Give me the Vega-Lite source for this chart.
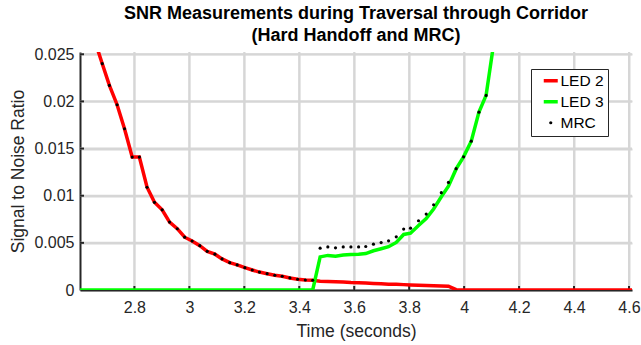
{
  "$schema": "https://vega.github.io/schema/vega-lite/v6.json",
  "width": 552,
  "height": 238,
  "autosize": "none",
  "padding": {"left": 80, "top": 52, "right": 9, "bottom": 55},
  "background": "white",
  "config": {
    "font": "Liberation Sans",
    "view": {"stroke": null},
    "axisX": {
      "format": "~g", "titleFontSize": 17.5, "titleFontWeight": "normal", "titleColor": "#262626", "titlePadding": 7,
      "labelFontSize": 16, "labelColor": "#262626", "labelPadding": 9, "labelFlush": false,
      "domainColor": "#262626", "domainWidth": 2, "ticks": false,
      "grid": true, "gridColor": "#d6d6d6", "gridWidth": 2
    },
    "axisY": {
      "format": "~g", "titleFontSize": 17.5, "titleFontWeight": "normal", "titleColor": "#262626", "titlePadding": 6,
      "labelFontSize": 16, "labelColor": "#262626", "labelPadding": 6, "labelFlush": false,
      "domainColor": "#262626", "domainWidth": 2, "ticks": false,
      "grid": true, "gridColor": "#d6d6d6", "gridWidth": 2
    }
  },
  "title": {
    "text": ["SNR Measurements during Traversal through Corridor", "(Hard Handoff and MRC)"],
    "fontSize": 18, "fontWeight": "bold", "color": "#000000", "anchor": "middle",
    "offset": 1, "lineHeight": 22, "font": "Liberation Sans"
  },
  "datasets": {
    "xg": [{"t": 2.8}, {"t": 3}, {"t": 3.2}, {"t": 3.4}, {"t": 3.6}, {"t": 3.8}, {"t": 4}, {"t": 4.2}, {"t": 4.4}, {"t": 4.6}],
    "yg": [{"v": 0.005}, {"v": 0.01}, {"v": 0.015}, {"v": 0.02}, {"v": 0.025}],
    "snr": [
    {"t": 2.655, "v": 0.0265, "s": "LED 2"},
    {"t": 2.683, "v": 0.024, "s": "LED 2"},
    {"t": 2.709, "v": 0.0217, "s": "LED 2"},
    {"t": 2.737, "v": 0.01965, "s": "LED 2"},
    {"t": 2.764, "v": 0.0171, "s": "LED 2"},
    {"t": 2.792, "v": 0.0141, "s": "LED 2"},
    {"t": 2.818, "v": 0.0141, "s": "LED 2"},
    {"t": 2.846, "v": 0.0109, "s": "LED 2"},
    {"t": 2.873, "v": 0.0093, "s": "LED 2"},
    {"t": 2.901, "v": 0.0085, "s": "LED 2"},
    {"t": 2.928, "v": 0.0072, "s": "LED 2"},
    {"t": 2.956, "v": 0.0065, "s": "LED 2"},
    {"t": 2.983, "v": 0.0056, "s": "LED 2"},
    {"t": 3.010, "v": 0.0052, "s": "LED 2"},
    {"t": 3.038, "v": 0.0047, "s": "LED 2"},
    {"t": 3.065, "v": 0.0041, "s": "LED 2"},
    {"t": 3.093, "v": 0.0038, "s": "LED 2"},
    {"t": 3.119, "v": 0.0033, "s": "LED 2"},
    {"t": 3.147, "v": 0.0029, "s": "LED 2"},
    {"t": 3.174, "v": 0.00266, "s": "LED 2"},
    {"t": 3.202, "v": 0.00237, "s": "LED 2"},
    {"t": 3.229, "v": 0.00212, "s": "LED 2"},
    {"t": 3.255, "v": 0.0019, "s": "LED 2"},
    {"t": 3.283, "v": 0.00173, "s": "LED 2"},
    {"t": 3.311, "v": 0.00156, "s": "LED 2"},
    {"t": 3.338, "v": 0.00146, "s": "LED 2"},
    {"t": 3.366, "v": 0.00128, "s": "LED 2"},
    {"t": 3.394, "v": 0.00114, "s": "LED 2"},
    {"t": 3.422, "v": 0.00106, "s": "LED 2"},
    {"t": 3.449, "v": 0.00103, "s": "LED 2"},
    {"t": 3.476, "v": 0.00093, "s": "LED 2"},
    {"t": 3.504, "v": 0.0009, "s": "LED 2"},
    {"t": 3.532, "v": 0.00088, "s": "LED 2"},
    {"t": 3.560, "v": 0.00085, "s": "LED 2"},
    {"t": 3.588, "v": 0.0008, "s": "LED 2"},
    {"t": 3.616, "v": 0.00078, "s": "LED 2"},
    {"t": 3.642, "v": 0.00075, "s": "LED 2"},
    {"t": 3.670, "v": 0.0007, "s": "LED 2"},
    {"t": 3.698, "v": 0.00066, "s": "LED 2"},
    {"t": 3.725, "v": 0.00062, "s": "LED 2"},
    {"t": 3.753, "v": 0.0006, "s": "LED 2"},
    {"t": 3.780, "v": 0.00057, "s": "LED 2"},
    {"t": 3.805, "v": 0.00054, "s": "LED 2"},
    {"t": 3.834, "v": 0.0005, "s": "LED 2"},
    {"t": 3.862, "v": 0.00047, "s": "LED 2"},
    {"t": 3.889, "v": 0.00045, "s": "LED 2"},
    {"t": 3.917, "v": 0.00043, "s": "LED 2"},
    {"t": 3.943, "v": 0.0004, "s": "LED 2"},
    {"t": 3.971, "v": 0.00003, "s": "LED 2"},
    {"t": 3.998, "v": 0, "s": "LED 2"},
    {"t": 4.611, "v": 0, "s": "LED 2"},
    {"t": 2.602, "v": 0, "s": "LED 3"},
    {"t": 3.449, "v": 0, "s": "LED 3"},
    {"t": 3.476, "v": 0.00351, "s": "LED 3"},
    {"t": 3.504, "v": 0.00367, "s": "LED 3"},
    {"t": 3.532, "v": 0.00359, "s": "LED 3"},
    {"t": 3.560, "v": 0.00372, "s": "LED 3"},
    {"t": 3.588, "v": 0.00377, "s": "LED 3"},
    {"t": 3.616, "v": 0.00379, "s": "LED 3"},
    {"t": 3.642, "v": 0.00386, "s": "LED 3"},
    {"t": 3.670, "v": 0.00416, "s": "LED 3"},
    {"t": 3.698, "v": 0.00437, "s": "LED 3"},
    {"t": 3.725, "v": 0.00459, "s": "LED 3"},
    {"t": 3.753, "v": 0.00504, "s": "LED 3"},
    {"t": 3.780, "v": 0.00589, "s": "LED 3"},
    {"t": 3.805, "v": 0.00602, "s": "LED 3"},
    {"t": 3.834, "v": 0.00684, "s": "LED 3"},
    {"t": 3.862, "v": 0.00758, "s": "LED 3"},
    {"t": 3.889, "v": 0.00859, "s": "LED 3"},
    {"t": 3.917, "v": 0.00989, "s": "LED 3"},
    {"t": 3.943, "v": 0.01101, "s": "LED 3"},
    {"t": 3.971, "v": 0.01284, "s": "LED 3"},
    {"t": 3.998, "v": 0.01412, "s": "LED 3"},
    {"t": 4.026, "v": 0.01578, "s": "LED 3"},
    {"t": 4.054, "v": 0.01886, "s": "LED 3"},
    {"t": 4.080, "v": 0.02064, "s": "LED 3"},
    {"t": 4.108, "v": 0.0262, "s": "LED 3"},
    {"t": 2.655, "v": 0.0265, "s": "MRC"},
    {"t": 2.683, "v": 0.024, "s": "MRC"},
    {"t": 2.709, "v": 0.0217, "s": "MRC"},
    {"t": 2.737, "v": 0.01965, "s": "MRC"},
    {"t": 2.764, "v": 0.0171, "s": "MRC"},
    {"t": 2.792, "v": 0.0141, "s": "MRC"},
    {"t": 2.818, "v": 0.0141, "s": "MRC"},
    {"t": 2.846, "v": 0.0109, "s": "MRC"},
    {"t": 2.873, "v": 0.0093, "s": "MRC"},
    {"t": 2.901, "v": 0.0085, "s": "MRC"},
    {"t": 2.928, "v": 0.0072, "s": "MRC"},
    {"t": 2.956, "v": 0.0065, "s": "MRC"},
    {"t": 2.983, "v": 0.0056, "s": "MRC"},
    {"t": 3.010, "v": 0.0052, "s": "MRC"},
    {"t": 3.038, "v": 0.0047, "s": "MRC"},
    {"t": 3.065, "v": 0.0041, "s": "MRC"},
    {"t": 3.093, "v": 0.0038, "s": "MRC"},
    {"t": 3.119, "v": 0.0033, "s": "MRC"},
    {"t": 3.147, "v": 0.0029, "s": "MRC"},
    {"t": 3.174, "v": 0.00266, "s": "MRC"},
    {"t": 3.202, "v": 0.00237, "s": "MRC"},
    {"t": 3.229, "v": 0.00212, "s": "MRC"},
    {"t": 3.255, "v": 0.0019, "s": "MRC"},
    {"t": 3.283, "v": 0.00173, "s": "MRC"},
    {"t": 3.311, "v": 0.00156, "s": "MRC"},
    {"t": 3.338, "v": 0.00146, "s": "MRC"},
    {"t": 3.366, "v": 0.00128, "s": "MRC"},
    {"t": 3.394, "v": 0.00114, "s": "MRC"},
    {"t": 3.422, "v": 0.00106, "s": "MRC"},
    {"t": 3.449, "v": 0.00103, "s": "MRC"},
    {"t": 3.476, "v": 0.00444, "s": "MRC"},
    {"t": 3.504, "v": 0.00457, "s": "MRC"},
    {"t": 3.532, "v": 0.00447, "s": "MRC"},
    {"t": 3.560, "v": 0.00457, "s": "MRC"},
    {"t": 3.588, "v": 0.00457, "s": "MRC"},
    {"t": 3.616, "v": 0.00457, "s": "MRC"},
    {"t": 3.642, "v": 0.00461, "s": "MRC"},
    {"t": 3.670, "v": 0.00486, "s": "MRC"},
    {"t": 3.698, "v": 0.00503, "s": "MRC"},
    {"t": 3.725, "v": 0.00521, "s": "MRC"},
    {"t": 3.753, "v": 0.00564, "s": "MRC"},
    {"t": 3.780, "v": 0.00646, "s": "MRC"},
    {"t": 3.805, "v": 0.00656, "s": "MRC"},
    {"t": 3.834, "v": 0.00734, "s": "MRC"},
    {"t": 3.862, "v": 0.00805, "s": "MRC"},
    {"t": 3.889, "v": 0.00904, "s": "MRC"},
    {"t": 3.917, "v": 0.01032, "s": "MRC"},
    {"t": 3.943, "v": 0.01141, "s": "MRC"},
    {"t": 3.971, "v": 0.01287, "s": "MRC"},
    {"t": 3.998, "v": 0.01412, "s": "MRC"},
    {"t": 4.026, "v": 0.01578, "s": "MRC"},
    {"t": 4.054, "v": 0.01886, "s": "MRC"},
    {"t": 4.080, "v": 0.02064, "s": "MRC"},
    {"t": 4.108, "v": 0.0262, "s": "MRC"}
  ]},
  "layer": [
    {
      "data": {"name": "xg"},
      "mark": {"type": "rule", "color": "#d6d6d6", "strokeWidth": 2},
      "encoding": {
        "x": {"field": "t", "type": "quantitative", "scale": {"domain": [2.602, 4.611], "nice": false, "zero": false}}
      }
    },
    {
      "data": {"name": "yg"},
      "mark": {"type": "rule", "color": "#d6d6d6", "strokeWidth": 2},
      "encoding": {
        "y": {"field": "v", "type": "quantitative", "scale": {"domain": [0, 0.02524], "nice": false, "zero": true}}
      }
    },
    {
      "data": {"name": "xg"},
      "mark": {"type": "point", "shape": "M0,0V-1", "size": 64, "filled": false, "stroke": "#262626", "strokeWidth": 2, "opacity": 1},
      "encoding": {
        "x": {"field": "t", "type": "quantitative", "scale": {"domain": [2.602, 4.611], "nice": false, "zero": false}},
        "y": {"datum": 0, "type": "quantitative", "scale": {"domain": [0, 0.02524], "nice": false, "zero": true}}
      }
    },
    {
      "data": {"name": "yg"},
      "mark": {"type": "point", "shape": "M0,0H1", "size": 64, "filled": false, "stroke": "#262626", "strokeWidth": 2, "opacity": 1},
      "encoding": {
        "x": {"datum": 2.602, "type": "quantitative", "scale": {"domain": [2.602, 4.611], "nice": false, "zero": false}},
        "y": {"field": "v", "type": "quantitative", "scale": {"domain": [0, 0.02524], "nice": false, "zero": true}}
      }
    },
    {
      "data": {"name": "snr"},
      "transform": [{"filter": "datum.s !== 'MRC'"}],
      "mark": {"type": "line", "strokeWidth": 3.5, "clip": true},
      "encoding": {
        "x": {
          "field": "t", "type": "quantitative",
          "scale": {"domain": [2.602, 4.611], "nice": false, "zero": false},
          "axis": {"values": [2.8, 3, 3.2, 3.4, 3.6, 3.8, 4, 4.2, 4.4, 4.6], "title": "Time (seconds)"}
        },
        "y": {
          "field": "v", "type": "quantitative",
          "scale": {"domain": [0, 0.02524], "nice": false, "zero": true},
          "axis": {"values": [0, 0.005, 0.01, 0.015, 0.02, 0.025], "title": "Signal to Noise Ratio"}
        },
        "color": {
          "field": "s", "type": "nominal",
          "scale": {"domain": ["LED 2", "LED 3", "MRC"], "range": ["#ff0000", "#00ff00", "#000000"]},
          "legend": {
            "orient": "none", "legendX": 451, "legendY": 17, "title": null,
            "strokeColor": "#262626", "fillColor": "#ffffff", "padding": 4,
            "symbolOffset": 8, "symbolSize": 196, "symbolStrokeWidth": 3.5,
            "labelFontSize": 15.5, "labelColor": "#000000", "labelOffset": 2, "rowPadding": 4,
            "labelExpr": "datum.label + '\u00a0\u00a0\u00a0\u00a0'",
            "encode": {
              "symbols": {
                "update": {
                  "shape": {"signal": "datum.value === 'MRC' ? 'circle' : 'stroke'"},
                  "size": {"signal": "datum.value === 'MRC' ? 10 : 196"},
                  "strokeWidth": {"signal": "datum.value === 'MRC' ? 0 : 3.5"},
                  "fill": {"signal": "datum.value === 'MRC' ? '#000000' : 'transparent'"},
                  "stroke": {"signal": "datum.value === 'LED 2' ? '#ff0000' : (datum.value === 'LED 3' ? '#00ff00' : 'transparent')"},
                  "opacity": {"value": 1}
                }
              }
            }
          }
        }
      }
    },
    {
      "data": {"name": "snr"},
      "transform": [{"filter": "datum.s === 'MRC'"}],
      "mark": {"type": "point", "filled": true, "size": 10, "opacity": 1, "clip": true},
      "encoding": {
        "x": {"field": "t", "type": "quantitative", "scale": {"domain": [2.602, 4.611], "nice": false, "zero": false}},
        "y": {"field": "v", "type": "quantitative", "scale": {"domain": [0, 0.02524], "nice": false, "zero": true}},
        "color": {"field": "s", "type": "nominal", "scale": {"domain": ["LED 2", "LED 3", "MRC"], "range": ["#ff0000", "#00ff00", "#000000"]}}
      }
    }
  ]
}
